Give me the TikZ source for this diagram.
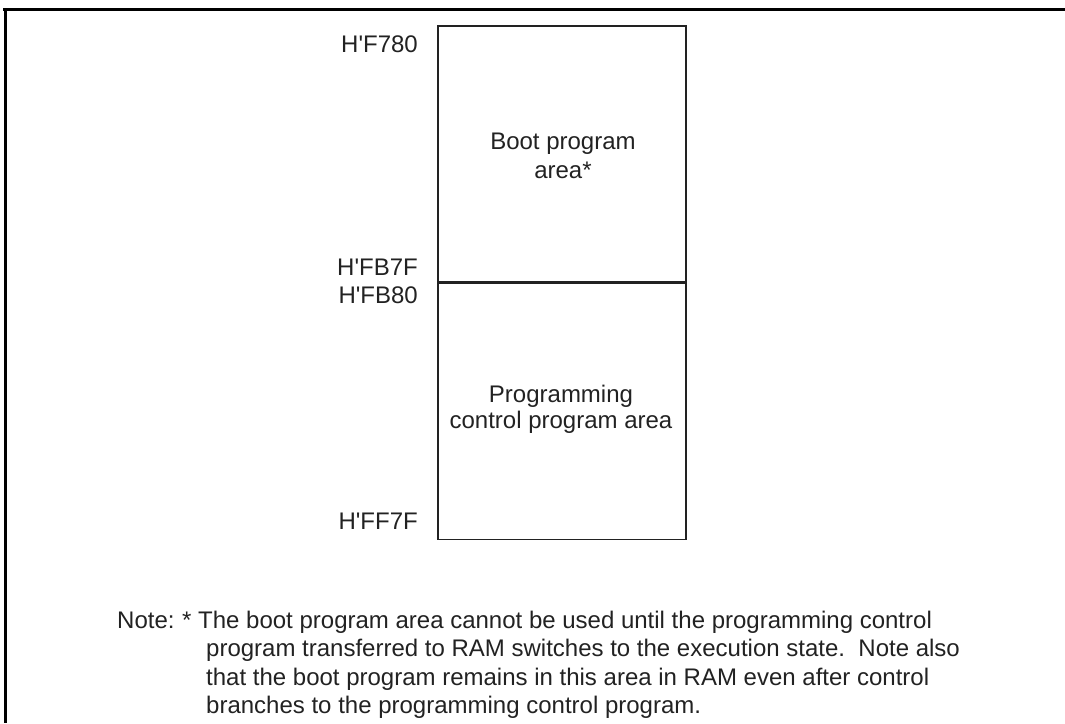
\documentclass[tikz,border=0pt]{standalone}
\usepackage{fontspec}
\setmainfont{Liberation Sans}
\usepackage{xcolor}
\usetikzlibrary{positioning}
\definecolor{ink}{HTML}{222222}
\newcommand{\hq}{H\textquotesingle}

\begin{document}
\begin{tikzpicture}[x=1pt,y=-1pt,
  area/.style={draw=ink, line width=1.5pt, minimum width=248pt, minimum height=256pt, inner sep=0pt},
  addr/.style={anchor=base east, inner sep=0pt},
  boxline/.style={anchor=base, inner sep=0pt},
  noteline/.style={anchor=base west, inner sep=0pt},
  font=\fontsize{24}{27}\selectfont, text=ink]
\useasboundingbox (0,0) rectangle (1065,723);
% frame (top and left edges only)
\draw[black, line width=3pt] (3,9) -- (1065,9);
\draw[black, line width=3pt] (5,9) -- (5,723);
% memory map
\node[area, anchor=north west] (boot) at (437,25) {};
\node[area, below=0pt of boot] (ctrl) {};
\node[boxline] (boot1) at (563,149) {Boot program};
\node[boxline] (boot2) at (563,178) {area*};
\node[boxline] (ctrl1) at (561,402) {Programming};
\node[boxline] (ctrl2) at (561,428) {control program area};
\node[addr] (a1) at (418,52) {\hq F780};
\node[addr] (a2) at (418,275) {\hq FB7F};
\node[addr] (a3) at (418,303) {\hq FB80};
\node[addr] (a4) at (418,529) {\hq FF7F};
% note
\node[noteline] (note) at (117,628) {Note:};
\node[noteline] (star) at (182,628) {*};
\node[noteline] (n1) at (198,628) {The boot program area cannot be used until the programming control};
\node[noteline] (n2) at (206,656.5) {program transferred to RAM switches to the execution state.\ \ Note also};
\node[noteline] (n3) at (206,685) {that the boot program remains in this area in RAM even after control};
\node[noteline] (n4) at (206,713.5) {branches to the programming control program.};
\end{tikzpicture}
\end{document}
